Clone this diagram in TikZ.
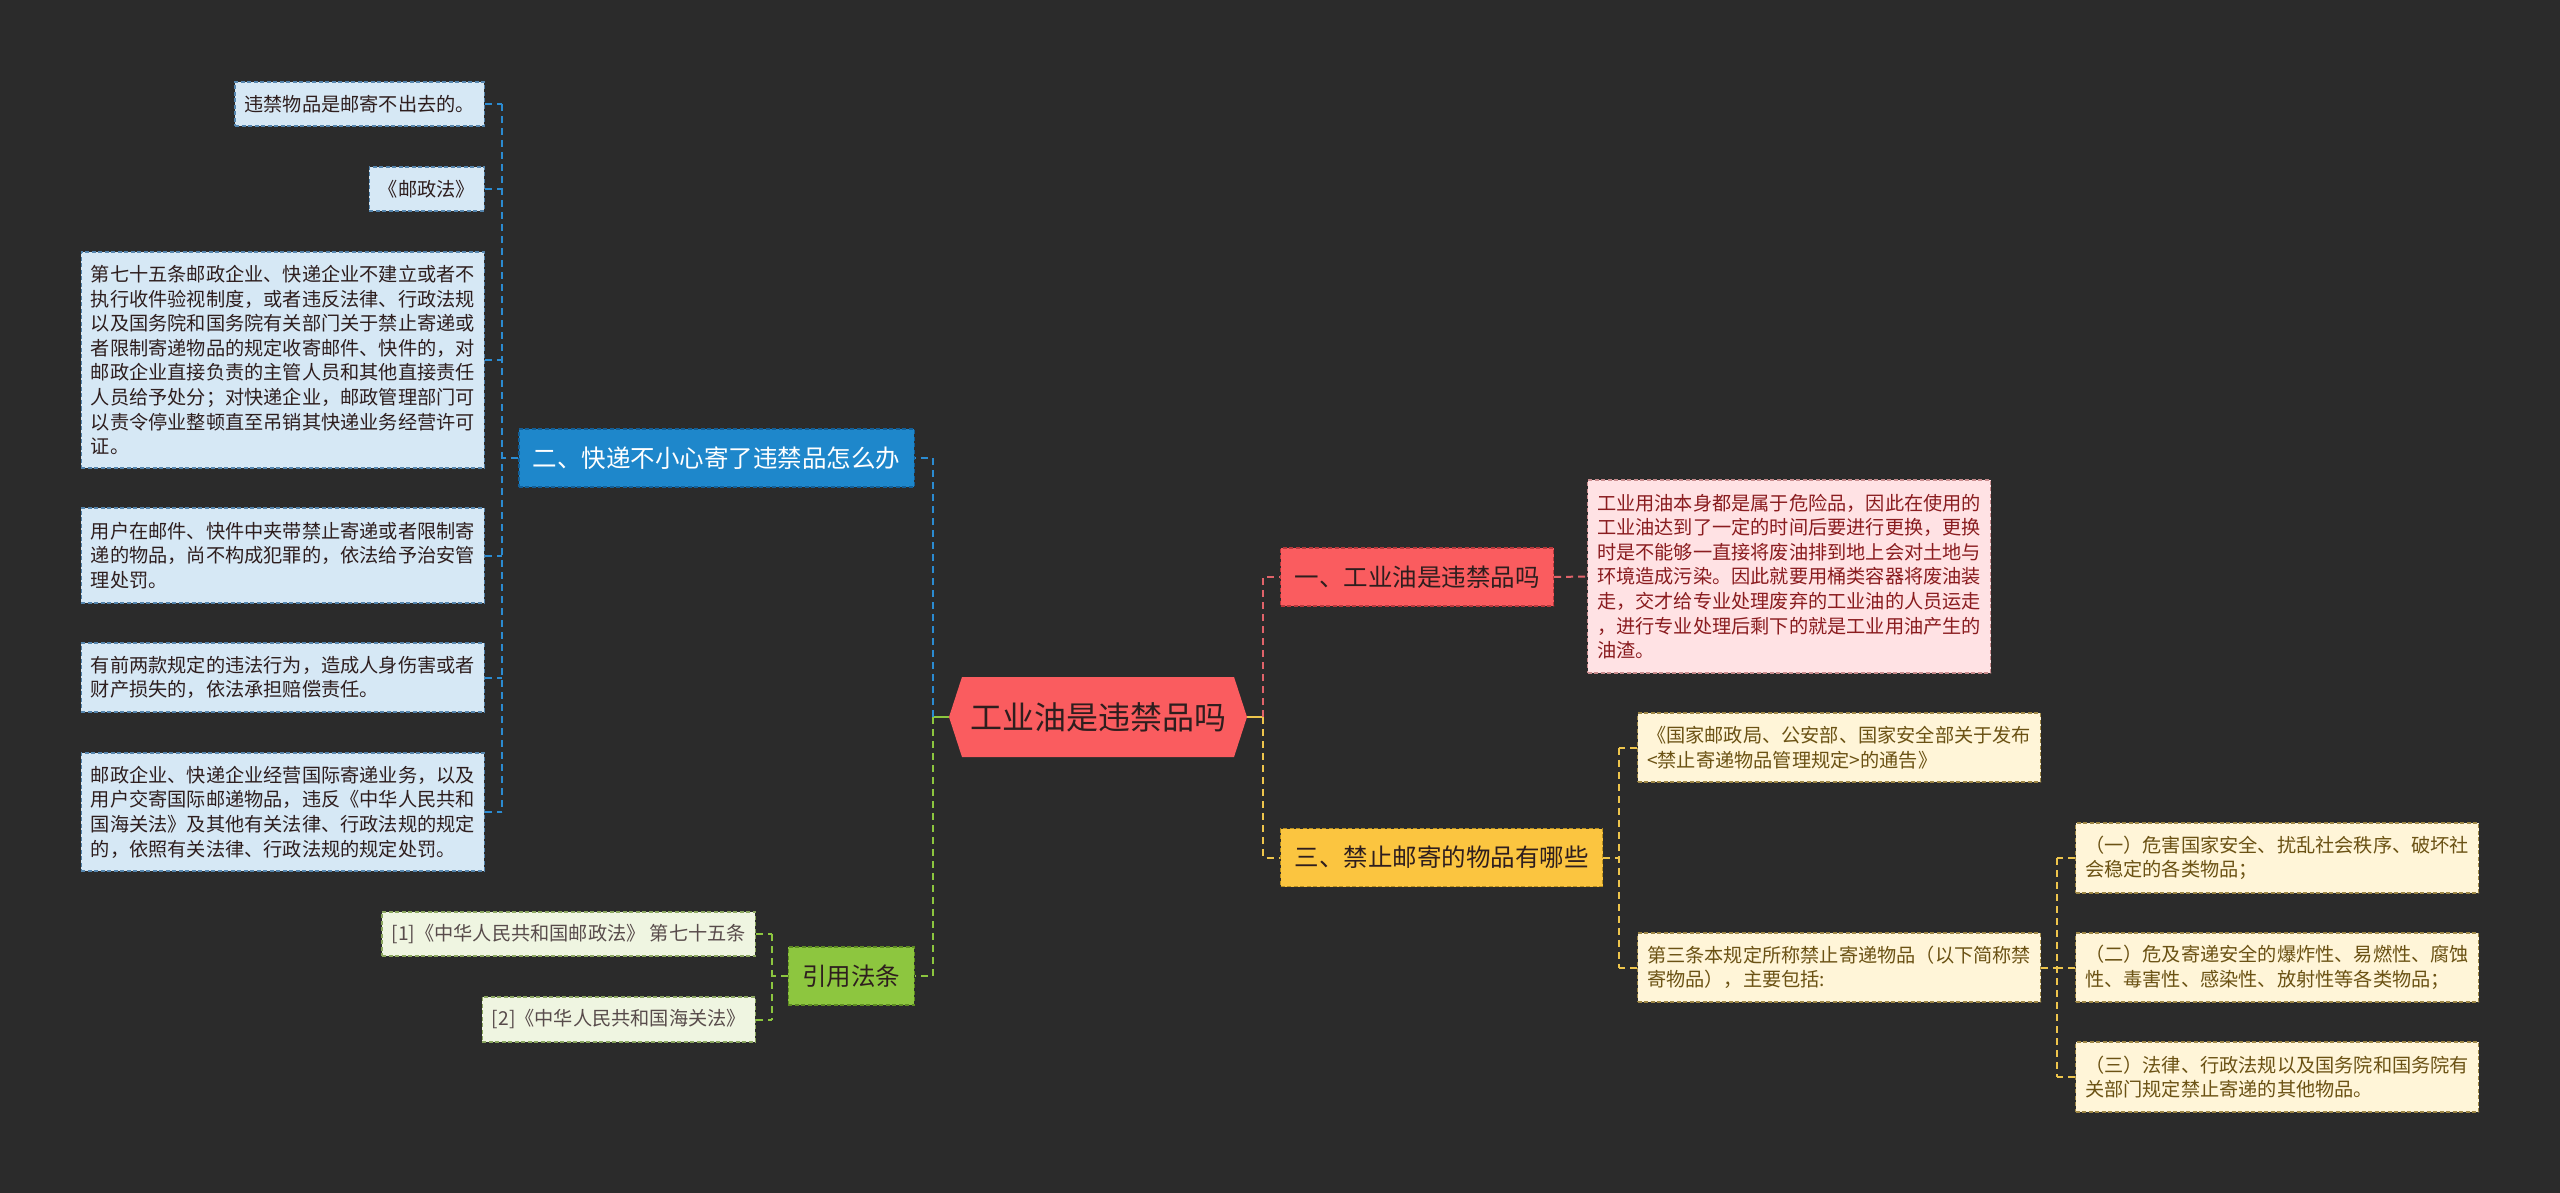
\documentclass[tikz,border=0pt]{standalone}
\usepackage{fontspec}
\setmainfont{Noto Sans CJK SC}
\usetikzlibrary{shapes.symbols}

\definecolor{bg}{HTML}{2B2B2B}
\definecolor{rootred}{HTML}{FA5C5F}
\definecolor{darktext}{HTML}{2E1E1E}
\definecolor{redlink}{HTML}{E0636A}
\definecolor{rededge}{HTML}{B8383C}
\definecolor{pinkfill}{HTML}{FFE2E4}
\definecolor{pinkedge}{HTML}{C98C8E}
\definecolor{pinktext}{HTML}{8A1C1F}
\definecolor{bluenode}{HTML}{1E87CB}
\definecolor{blueedge}{HTML}{125F98}
\definecolor{bluelink}{HTML}{2B8BD1}
\definecolor{bluefill}{HTML}{D6E8F5}
\definecolor{blueleafedge}{HTML}{5585AD}
\definecolor{yellownode}{HTML}{FBC540}
\definecolor{yellowedge}{HTML}{B88F1E}
\definecolor{yellowlink}{HTML}{EEC54C}
\definecolor{creamfill}{HTML}{FFF5D8}
\definecolor{creamedge}{HTML}{9E8746}
\definecolor{creamtext}{HTML}{6B5214}
\definecolor{greennode}{HTML}{8DC63F}
\definecolor{greenedge}{HTML}{5E8C22}
\definecolor{greenlink}{HTML}{8CC63F}
\definecolor{greenfill}{HTML}{EFF5E1}
\definecolor{greenleafedge}{HTML}{8BA660}

\newcommand\leaffont{\fontsize{19.2}{24.6}\selectfont}
\newcommand\topicfont{\fontsize{24.5}{28}\selectfont}
\newcommand\rootfont{\fontsize{32}{36}\selectfont}

\begin{document}
\begin{tikzpicture}[x=1pt,y=-1pt,
  box/.style={rectangle, line width=1.2pt, dash pattern=on 4pt off 2.5pt,
    align=left, inner xsep=9.5pt, inner ysep=4pt, font=\leaffont},
  blueleaf/.style={box, fill=bluefill, draw=blueleafedge, text=darktext},
  pinkleaf/.style={box, fill=pinkfill, draw=pinkedge, text=pinktext},
  creamleaf/.style={box, fill=creamfill, draw=creamedge, text=creamtext},
  greenleaf/.style={box, fill=greenfill, draw=greenleafedge, text=darktext!80},
  topic/.style={rectangle, line width=1.2pt, dash pattern=on 4pt off 2.5pt,
    minimum height=58pt, inner xsep=14pt, font=\topicfont},
  rootnode/.style={shape=signal, signal to=east and west, signal pointer angle=144,
    fill=rootred, text=darktext, minimum width=298pt, minimum height=80pt, font=\rootfont},
  link/.style={line width=2pt, dash pattern=on 7pt off 5pt}]
%Background first, it also fixes the size of the page
% then the centre, the four topics around it, and the leaves
% of every topic; the connectors go last, from name to name.
\fill[bg] (0,0) rectangle (2560,1193);

\node[rootnode] (root) at (1098,717) {工业油是违禁品吗};

\node[topic, fill=rootred, draw=rededge, text=darktext, anchor=west] (q1) at (1280,577) {一、工业油是违禁品吗};
\node[topic, fill=bluenode, draw=blueedge, text=white, anchor=east] (q2) at (915,458) {二、快递不小心寄了违禁品怎么办};
\node[topic, fill=yellownode, draw=yellowedge, text=darktext, anchor=west] (q3) at (1280,857.5) {三、禁止邮寄的物品有哪些};
\node[topic, fill=greennode, draw=greenedge, text=darktext, anchor=east] (refs) at (915,976) {引用法条};

% leaves of q1
\node[pinkleaf, anchor=west, minimum height=193pt] (a1) at (1587,576.5)
  {工业用油本身都是属于危险品，因此在使用的\\工业油达到了一定的时间后要进行更换，更换\\时是不能够一直接将废油排到地上会对土地与\\环境造成污染。因此就要用桶类容器将废油装\\走，交才给专业处理废弃的工业油的人员运走\\，进行专业处理后剩下的就是工业用油产生的\\油渣。};

% leaves of q2
\node[blueleaf, anchor=east, minimum height=44pt] (b1) at (485,104) {违禁物品是邮寄不出去的。};
\node[blueleaf, anchor=east, minimum height=44pt] (b2) at (485,189) {《邮政法》};
\node[blueleaf, anchor=east, minimum height=216pt] (b3) at (485,360)
  {第七十五条邮政企业、快递企业不建立或者不\\执行收件验视制度，或者违反法律、行政法规\\以及国务院和国务院有关部门关于禁止寄递或\\者限制寄递物品的规定收寄邮件、快件的，对\\邮政企业直接负责的主管人员和其他直接责任\\人员给予处分；对快递企业，邮政管理部门可\\以责令停业整顿直至吊销其快递业务经营许可\\证。};
\node[blueleaf, anchor=east, minimum height=95pt] (b4) at (485,555.5)
  {用户在邮件、快件中夹带禁止寄递或者限制寄\\递的物品，尚不构成犯罪的，依法给予治安管\\理处罚。};
\node[blueleaf, anchor=east, minimum height=69pt] (b5) at (485,677.5)
  {有前两款规定的违法行为，造成人身伤害或者\\财产损失的，依法承担赔偿责任。};
\node[blueleaf, anchor=east, minimum height=118pt] (b6) at (485,812)
  {邮政企业、快递企业经营国际寄递业务，以及\\用户交寄国际邮递物品，违反《中华人民共和\\国海关法》及其他有关法律、行政法规的规定\\的，依照有关法律、行政法规的规定处罚。};

% leaves of q3
\node[creamleaf, anchor=west, minimum height=69pt] (c1) at (1637,747.5)
  {《国家邮政局、公安部、国家安全部关于发布\\<禁止寄递物品管理规定>的通告》};
\node[creamleaf, anchor=west, minimum height=69pt] (c2) at (1637,967.5)
  {第三条本规定所称禁止寄递物品（以下简称禁\\寄物品），主要包括:};
\node[creamleaf, anchor=west, minimum height=70pt] (d1) at (2075,858)
  {（一）危害国家安全、扰乱社会秩序、破坏社\\会稳定的各类物品；};
\node[creamleaf, anchor=west, minimum height=69pt] (d2) at (2075,967.5)
  {（二）危及寄递安全的爆炸性、易燃性、腐蚀\\性、毒害性、感染性、放射性等各类物品；};
\node[creamleaf, anchor=west, minimum height=70pt] (d3) at (2075,1077)
  {（三）法律、行政法规以及国务院和国务院有\\关部门规定禁止寄递的其他物品。};

% leaves of refs
\node[greenleaf, anchor=east, minimum height=44pt] (r1) at (756,934) {[1]《中华人民共和国邮政法》 第七十五条};
\node[greenleaf, anchor=east, minimum height=45pt] (r2) at (756,1019.5) {[2]《中华人民共和国海关法》};

% junctions
\coordinate (jl) at ([xshift=-16pt]root.west);
\coordinate (jr) at ([xshift=16pt]root.east);
\coordinate (jb) at ([xshift=-16pt]q2.west);
\coordinate (jg) at ([xshift=-16pt]refs.west);
\coordinate (jy) at ([xshift=16pt]q3.east);
\coordinate (jz) at ([xshift=16pt]c2.east);

% connectors
\draw[line width=2pt, greenlink] (root.west) -- (jl);
\draw[line width=2pt, yellowlink] (root.east) -- (jr);
\draw[link, bluelink] (jl) |- (q2.east);
\draw[link, greenlink] (jl) |- (refs.east);
\draw[link, redlink] (jr) |- (q1.west);
\draw[link, yellowlink] (jr) |- (q3.west);

\draw[link, redlink] (q1.east) -- (a1.west);

\draw[link, bluelink] (q2.west) -- (jb);
\draw[link, bluelink] (jb |- b1.east) -- (jb |- b6.east);
\foreach \n in {b1,b2,b3,b4,b5,b6}
  \draw[link, bluelink] (\n.east) -- (jb |- \n.east);

\draw[link, yellowlink] (q3.east) -- (jy);
\draw[link, yellowlink] (jy |- c1.west) -- (jy |- c2.west);
\foreach \n in {c1,c2}
  \draw[link, yellowlink] (\n.west) -- (jy |- \n.west);

\draw[link, yellowlink] (c2.east) -- (jz);
\draw[link, yellowlink] (jz |- d1.west) -- (jz |- d3.west);
\foreach \n in {d1,d2,d3}
  \draw[link, yellowlink] (\n.west) -- (jz |- \n.west);

\draw[link, greenlink] (refs.west) -- (jg);
\draw[link, greenlink] (jg |- r1.east) -- (jg |- r2.east);
\foreach \n in {r1,r2}
  \draw[link, greenlink] (\n.east) -- (jg |- \n.east);
\end{tikzpicture}
\end{document}
